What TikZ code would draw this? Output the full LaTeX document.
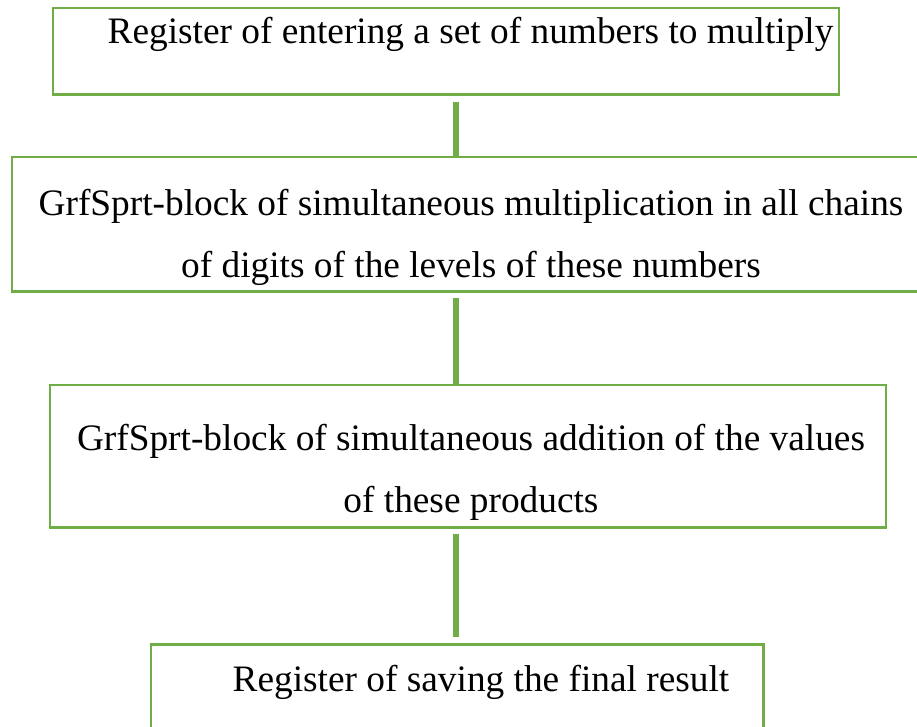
\documentclass[tikz,border=0pt]{standalone}
\usepackage{fontspec}
\setmainfont{Liberation Serif}
\usetikzlibrary{calc}

\definecolor{verdecaja}{RGB}{112,173,71}

\begin{document}
\begin{tikzpicture}[
        x=0.75pt, y=-0.75pt, % 1 unidad = 1 px, eje y hacia abajo
        font=\fontsize{28}{46.5}\selectfont, % Fuente de los textos
        caja/.style={draw=verdecaja, line width=1.8pt, inner sep=0pt}, % Estilo de los bloques
        enlace/.style={draw=verdecaja, line width=4.5pt}, % Estilo de las uniones
        texto/.style={anchor=base, align=center, inner sep=0pt}, % Estilo de los textos (base = ultima linea)
    ]
        % --- Marco de la figura ---
        \clip (0,0) rectangle (917,727);
        \useasboundingbox (0,0) rectangle (917,727);

        % --- Bloques ---
        \node[caja, minimum width=589.3pt, minimum height=65pt] (registro) at (445.9,51.3) {};
        \node[caja, minimum width=684.8pt, minimum height=100.8pt] (producto) at (468.5,224.5) {};
        \node[caja, minimum width=627pt, minimum height=106.7pt] (suma) at (468,456.2) {};
        \node[caja, minimum width=459.2pt, minimum height=75.5pt] (resultado) at (457.2,694.7) {};

        % --- Textos de los bloques ---
        \node[texto] (tregistro) at (470.5,44) {Register of entering a set of numbers to multiply};
        \node[texto] (tproducto) at (471,277.5) {GrfSprt-block of simultaneous multiplication in all chains\\of digits of the levels of these numbers};
        \node[texto] (tsuma) at (471,512.5) {GrfSprt-block of simultaneous addition of the values\\of these products};
        \node[texto] (tresultado) at (481,691) {Register of saving the final result};

        % --- Uniones entre bloques ---
        \coordinate (eje) at (456,0); % Eje vertical de las uniones
        \draw[enlace, shorten <=4.7pt] (registro.south -| eje) -- (producto.north -| eje);
        \draw[enlace, shorten <=4pt] (producto.south -| eje) -- (suma.north -| eje);
        \draw[enlace, shorten <=4.3pt, shorten >=4.7pt] (suma.south -| eje) -- (resultado.north -| eje);

    \end{tikzpicture}
\end{document}
